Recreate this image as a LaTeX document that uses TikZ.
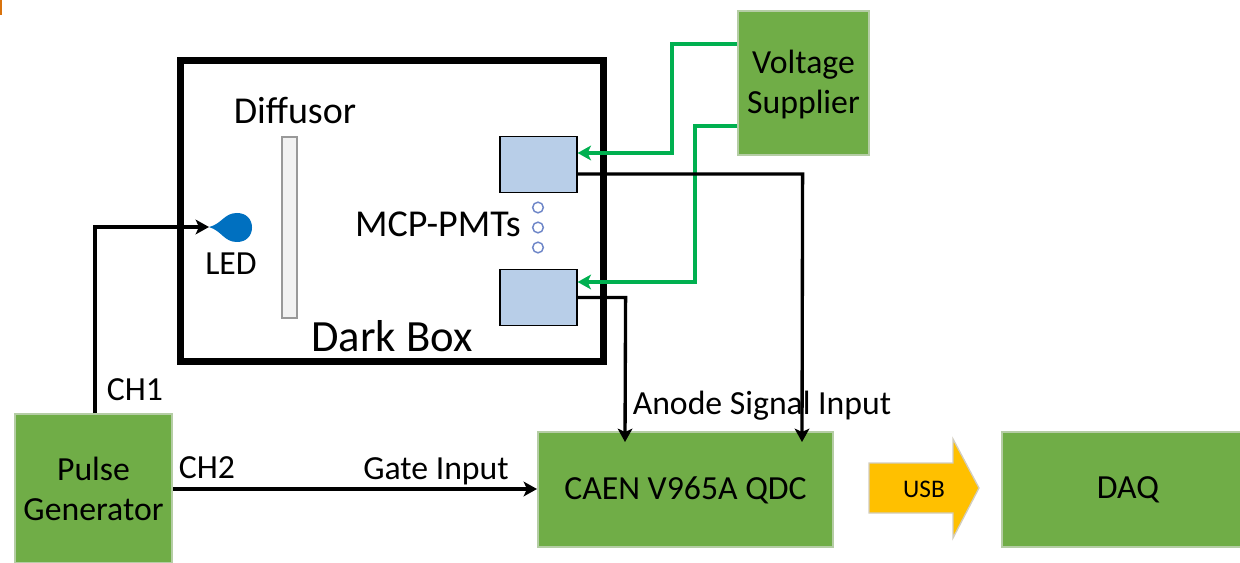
\documentclass[tikz,border=0pt]{standalone}
\usepackage{fontspec}
\setmainfont{Carlito}
\usetikzlibrary{calc,arrows.meta}
\definecolor{boxgreen}{HTML}{70AD47}
\definecolor{boxedge}{HTML}{B5CDA5}
\definecolor{wiregreen}{HTML}{00B050}
\definecolor{pmtblue}{HTML}{B8CEE8}
\definecolor{ledblue}{HTML}{0070C0}
\definecolor{usbamber}{HTML}{FFC000}
\definecolor{usbedge}{HTML}{D2CDBE}
\definecolor{cornerorange}{HTML}{D9730D}
\definecolor{ringblue}{HTML}{6F87C8}
\newcommand{\lowered}[2][1.5pt]{\raisebox{-#1}[\height][\depth]{#2}}
\tikzset{
  x=0.75pt,y=-0.75pt,
  greenbox/.style={draw=boxedge,line width=1.5pt,fill=boxgreen,inner sep=0pt,align=center,font=\fontsize{25.3}{30}\selectfont},
  pmtbox/.style={draw=black,line width=0.9pt,fill=pmtblue,inner sep=0pt,minimum width=57.75pt,minimum height=42pt},
  label/.style={inner sep=0pt,font=\fontsize{28.5}{32}\selectfont},
  smalllabel/.style={inner sep=0pt,font=\fontsize{25.3}{30}\selectfont},
  blackwire/.style={draw=black,line width=2.5pt,-{Stealth[length=10pt,width=11pt,inset=2.5pt]}},
  greenwire/.style={draw=wiregreen,line width=2.5pt,-{Stealth[length=10pt,width=11pt,inset=2.5pt]}},
  dotring/.style={circle,draw=ringblue,fill=white,line width=1.1pt,minimum size=8pt,inner sep=0pt},
}
\begin{document}
\begin{tikzpicture}
\useasboundingbox (0,0) rectangle (1240,563);
\fill[cornerorange] (0,0) rectangle (2,15);
% dark box
\draw[black,line width=5.25pt] (180.5,60.5) rectangle (603.5,361.5);
% diffusor
\node[draw=black!40,fill=black!5,line width=0.8pt,minimum width=11.25pt,minimum height=135.75pt,inner sep=0pt] (diff) at (289.5,227.5) {};
% boxes
\node[greenbox,minimum width=98.25pt,minimum height=108pt] (vs) at (803.5,83) {\lowered{Voltage}\\\lowered{Supplier}};
\node[greenbox,minimum width=117.75pt,minimum height=111.75pt] (pg) at (93.5,488.5) {Pulse\\Generator};
\node[greenbox,minimum width=221.25pt,minimum height=86.25pt] (qdc) at (685.5,489.5) {\lowered[0.8pt]{CAEN V965A QDC}};
\node[greenbox,minimum width=189pt,minimum height=86.25pt] (daq) at (1128,489.5) {DAQ};
\node[pmtbox] (pmtA) at (538.5,164.5) {};
\node[pmtbox] (pmtB) at (538.5,297.5) {};
% dots
\node[dotring] (d1) at (538,207.5) {};
\node[dotring] (d2) at (538,227.5) {};
\node[dotring] (d3) at (538,247.5) {};
% LED
\coordinate (ledtip) at (209,227);
\fill[ledblue] (ledtip) .. controls (222,224) and (224,213) .. (237,213) .. controls (246,213) and (252,219) .. (252,227.5) .. controls (252,236) and (246,242) .. (237,242) .. controls (224,242) and (222,231) .. (ledtip) -- cycle;
% USB arrow
\filldraw[fill=usbamber,draw=usbedge,line width=1pt] (869,463) -- (953,463) -- (953,439) -- (979,488) -- (953,538) -- (953,513) -- (869,513) -- cycle;
\node[inner sep=0pt,font=\fontsize{19}{22}\selectfont] (usb) at (924,489) {USB};
% wires
\draw[greenwire] ($(vs.west)+(0,-39)$) -- ++(-65,0) -- ++(0,109) -- ($(pmtA.east)+(0,-11.5)$);
\draw[greenwire] ($(vs.west)+(0,43)$) -- ++(-42,0) -- ++(0,156) -- ($(pmtB.east)+(0,-15.5)$);
\draw[blackwire] ($(pmtA.east)+(0,9.5)$) -- ++(225,0) -- ($(qdc.north)+(116.5,11)$);
\draw[blackwire] (pmtB.east) -- ++(48,0) -- ($(qdc.north)+(-60.5,11)$);
\draw[blackwire] ($(pg.north)+(1.5,0)$) |- (ledtip);
\draw[blackwire] ($(pg.east)+(0,0.5)$) -- (qdc.west |- 0,489);
% labels
\node[label] (t1) at (295,111) {Diffusor};
\node[label] (t2) at (438,224) {MCP-PMTs};
\node[label,font=\fontsize{33.5}{38}\selectfont] (t3) at (392,336) {Dark Box};
\node[smalllabel] (t4) at (231,264) {LED};
\node[smalllabel] (t5) at (135,390) {CH1};
\node[smalllabel] (t6) at (207,468) {CH2};
\node[smalllabel] (t7) at (436,471) {Gate Input};
\node[smalllabel] (t8) at (762,406) {Anode Signal Input};
\end{tikzpicture}
\end{document}
